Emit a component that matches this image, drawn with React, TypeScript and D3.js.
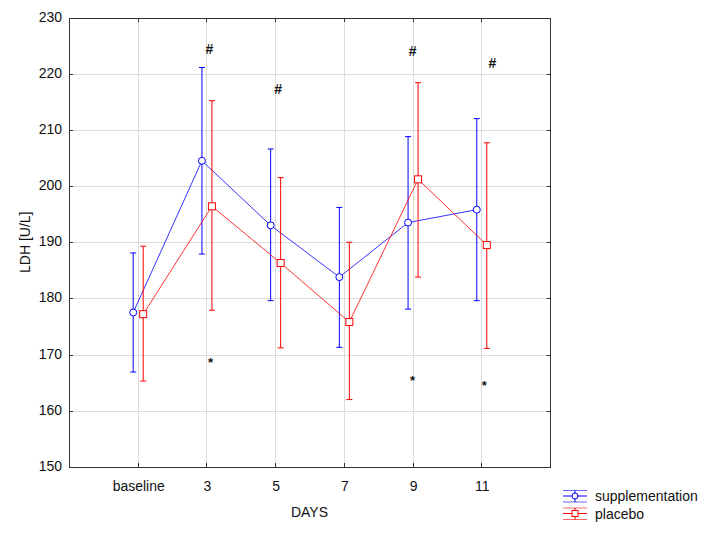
import React, { useRef, useEffect } from "react";
import * as d3 from "d3";

const days = ["baseline", "3", "5", "7", "9", "11"];

// supplementation: mean, upper, lower
const suppMean = [177.5, 204.5, 193.0, 183.8, 193.5, 195.8];
const suppHigh = [188.1, 221.1, 206.6, 196.2, 208.8, 212.0];
const suppLow = [166.9, 187.9, 179.6, 171.3, 178.1, 179.6];

// placebo
const placMean = [177.2, 196.4, 186.3, 175.8, 201.2, 189.5];
const placHigh = [189.3, 215.2, 201.5, 190.0, 218.4, 207.7];
const placLow = [165.3, 177.9, 171.2, 162.0, 183.8, 171.1];

const yTicks = [150, 160, 170, 180, 190, 200, 210, 220, 230];

// significance marks
const markDays = ["3", "5", "9", "11", "3", "9", "11"];
const markValues = [224.4, 217.3, 224.0, 221.9, 168.9, 165.6, 164.7];
const markSymbols = ["#", "#", "#", "#", "*", "*", "*"];
const markShift = [3, 3, 0, 11, 4, 0, 3];

export default function App() {
  const ref = useRef<SVGSVGElement>(null);

  useEffect(() => {
    const svg = d3.select(ref.current);
    svg.selectAll("*").remove();
    const width = 707;
    const height = 534;
    const left = 69;
    const right = 550;
    const top = 17.5;
    const bottom = 467;
    const font = "'Liberation Sans', Arial, sans-serif";

    svg.attr("width", width).attr("height", height);

    const x = d3.scalePoint<string>().domain(days).range([left, right]).padding(1);
    const y = d3.scaleLinear().domain([150, 230]).range([bottom, top]);
    const px = (d: string) => Math.round(x(d)!) + 0.5;
    const py = (v: number) => Math.round(y(v)) + 0.5;

    // grid
    const grid = svg.append("g").attr("stroke", "#dcdcdc").attr("stroke-width", 1);
    grid
      .selectAll("line.h")
      .data(yTicks.slice(1, -1))
      .join("line")
      .attr("x1", left)
      .attr("x2", right)
      .attr("y1", py)
      .attr("y2", py);
    grid
      .selectAll("line.v")
      .data(days)
      .join("line")
      .attr("class", "v")
      .attr("x1", px)
      .attr("x2", px)
      .attr("y1", top)
      .attr("y2", bottom);

    // frame
    svg
      .append("rect")
      .attr("x", left + 0.5)
      .attr("y", Math.round(top) + 0.5)
      .attr("width", right - left)
      .attr("height", bottom - Math.round(top))
      .attr("fill", "none")
      .attr("stroke", "#333");

    // inside ticks on all four sides
    const ticks = svg.append("g").attr("stroke", "#333");
    yTicks.slice(1, -1).forEach((v) => {
      ticks.append("line").attr("x1", left).attr("x2", left + 4).attr("y1", py(v)).attr("y2", py(v));
      ticks.append("line").attr("x1", right + 0.5).attr("x2", right - 3.5).attr("y1", py(v)).attr("y2", py(v));
    });
    days.forEach((d) => {
      ticks.append("line").attr("x1", px(d)).attr("x2", px(d)).attr("y1", bottom).attr("y2", bottom - 4);
      ticks.append("line").attr("x1", px(d)).attr("x2", px(d)).attr("y1", Math.round(top)).attr("y2", Math.round(top) + 4);
    });

    // tick labels
    svg
      .append("g")
      .selectAll("text")
      .data(yTicks)
      .join("text")
      .attr("x", 62)
      .attr("y", (d) => y(d) + 4)
      .attr("text-anchor", "end")
      .style("font", `14px ${font}`)
      .attr("fill", "#111")
      .text((d) => d);
    svg
      .append("g")
      .selectAll("text")
      .data(days)
      .join("text")
      .attr("x", (d) => x(d)! + 1)
      .attr("y", 491)
      .attr("text-anchor", "middle")
      .style("font", `14px ${font}`)
      .attr("fill", "#111")
      .text((d) => d);

    svg
      .append("text")
      .attr("x", (left + right) / 2)
      .attr("y", 517)
      .attr("text-anchor", "middle")
      .style("font", `14px ${font}`)
      .attr("fill", "#111")
      .text("DAYS");
    svg
      .append("text")
      .attr("transform", `translate(30,${(top + bottom) / 2}) rotate(-90)`)
      .attr("text-anchor", "middle")
      .style("font", `14px ${font}`)
      .attr("fill", "#111")
      .text("LDH [U/L]");

    const series = [
      { name: "supplementation", color: "#0000ff", mean: suppMean, hi: suppHigh, lo: suppLow, dx: -4.5, shape: "circle" },
      { name: "placebo", color: "#ff0000", mean: placMean, hi: placHigh, lo: placLow, dx: 5.5, shape: "square" },
    ];

    series.forEach((s) => {
      const g = svg.append("g").attr("stroke", s.color).attr("fill", "none");
      const sx = (i: number) => x(days[i])! + s.dx;
      const line = d3
        .line<number>()
        .x((_, i) => sx(i))
        .y((d) => y(d));
      g.append("path").attr("d", line(s.mean)).attr("stroke-opacity", 0.8);

      days.forEach((_, i) => {
        const cx = sx(i);
        g.append("line").attr("x1", cx).attr("x2", cx).attr("y1", y(s.hi[i])).attr("y2", y(s.lo[i]));
        g.append("line").attr("x1", cx - 3).attr("x2", cx + 3).attr("y1", y(s.hi[i])).attr("y2", y(s.hi[i]));
        g.append("line").attr("x1", cx - 3).attr("x2", cx + 3).attr("y1", y(s.lo[i])).attr("y2", y(s.lo[i]));
        if (s.shape === "circle") {
          g.append("circle").attr("cx", cx).attr("cy", y(s.mean[i])).attr("r", 3.5).attr("fill", "white");
        } else {
          g.append("rect")
            .attr("x", cx - 3.5)
            .attr("y", y(s.mean[i]) - 3.5)
            .attr("width", 7)
            .attr("height", 7)
            .attr("fill", "white");
        }
      });
    });

    // significance marks
    svg
      .append("g")
      .selectAll("text")
      .data(markSymbols)
      .join("text")
      .attr("x", (_, i) => x(markDays[i])! + markShift[i])
      .attr("y", (d, i) => y(markValues[i]) + (d === "#" ? 5 : 6))
      .attr("text-anchor", "middle")
      .style("font", (d) => `bold ${d === "#" ? 14 : 13}px ${font}`)
      .attr("fill", "#111")
      .text((d) => d);

    // legend
    const legend = svg.append("g").attr("transform", "translate(563,496)");
    series.forEach((s, i) => {
      const g = legend.append("g").attr("transform", `translate(0,${i * 17.5})`);
      g.append("line").attr("x1", 0).attr("x2", 24).attr("y1", -5.5).attr("y2", -5.5).attr("stroke", s.color).attr("stroke-opacity", 0.6);
      g.append("line").attr("x1", 0).attr("x2", 24).attr("y1", 6).attr("y2", 6).attr("stroke", s.color).attr("stroke-opacity", 0.6);
      g.append("line").attr("x1", 0).attr("x2", 24).attr("y1", 0).attr("y2", 0).attr("stroke", s.color);
      g.append("line").attr("x1", 12).attr("x2", 12).attr("y1", -5.5).attr("y2", 6).attr("stroke", s.color);
      if (s.shape === "circle") {
        g.append("circle").attr("cx", 12).attr("cy", 0).attr("r", 3).attr("fill", "white").attr("stroke", s.color);
      } else {
        g.append("rect").attr("x", 9).attr("y", -3).attr("width", 6).attr("height", 6).attr("fill", "white").attr("stroke", s.color);
      }
      g.append("text")
        .attr("x", 32)
        .attr("y", 5)
        .style("font", `14px ${font}`)
        .attr("fill", "#111")
        .text(s.name);
    });
  }, []);

  return (
    <div style={{ position: "absolute", left: 0, top: 0 }}>
      <svg ref={ref} />
    </div>
  );
}
